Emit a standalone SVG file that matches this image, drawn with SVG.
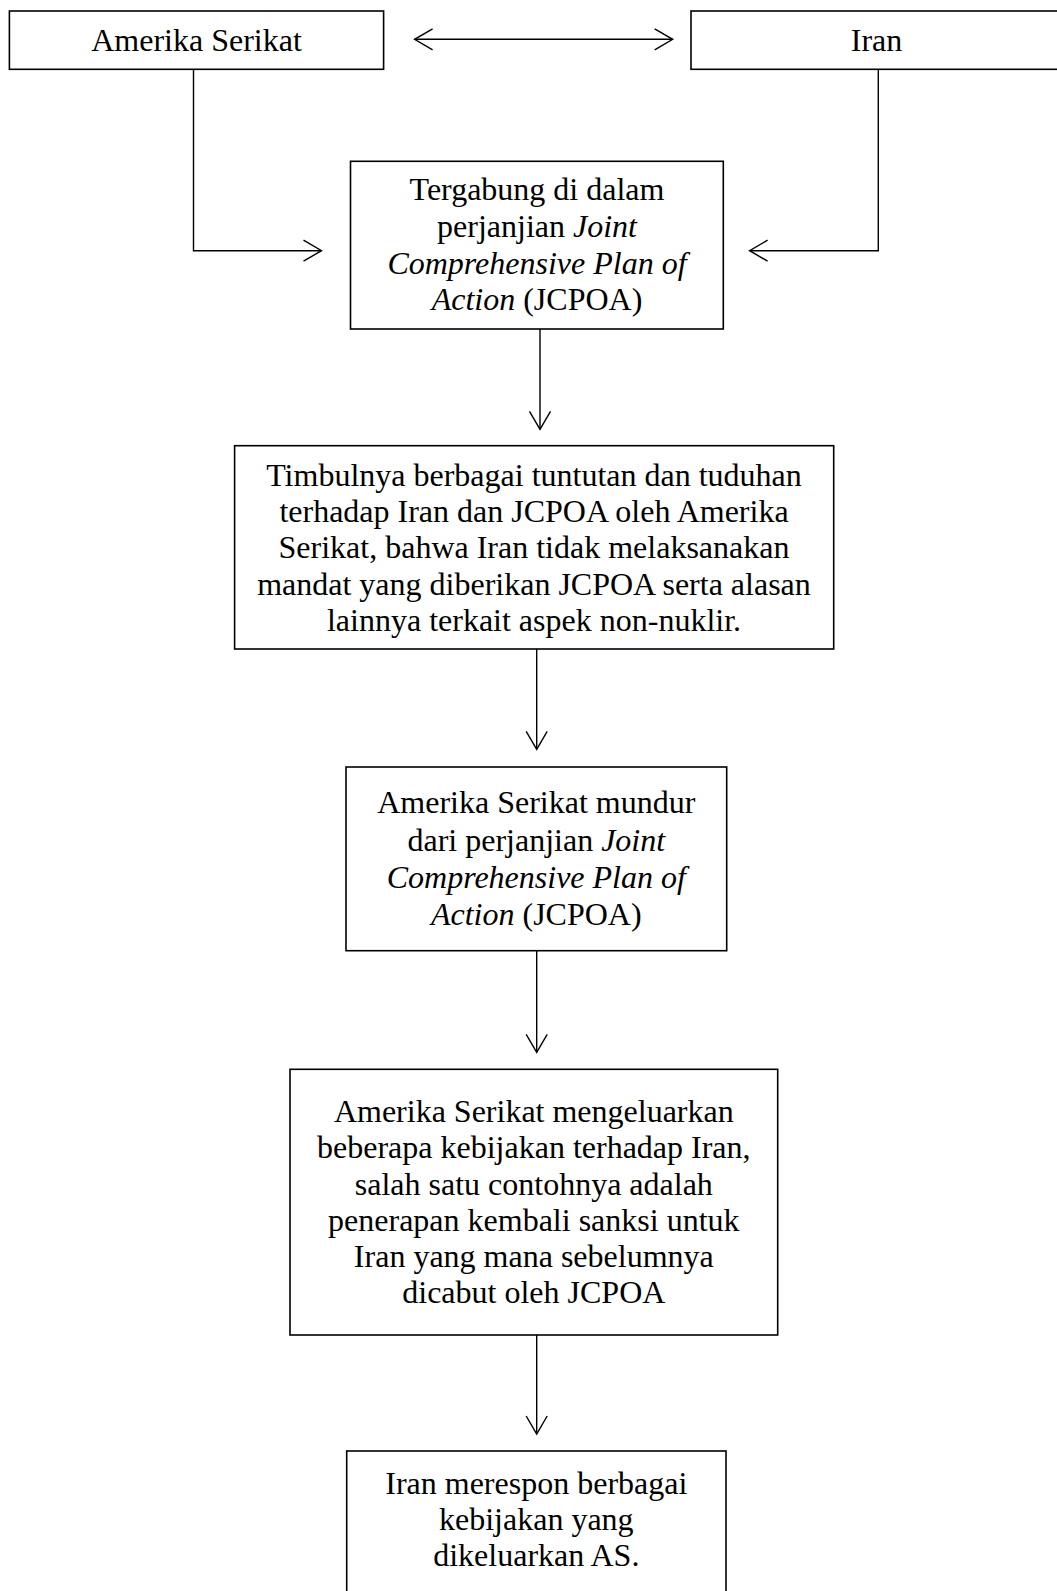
<svg xmlns="http://www.w3.org/2000/svg" width="1057" height="1591" viewBox="0 0 1057 1591">
<style>
.box{fill:#fff;stroke:#000;stroke-width:1.6}
.t{font-family:"Liberation Serif","Times New Roman",serif;font-size:32px;fill:#000;text-anchor:middle}
.i{font-style:italic}
.c{fill:none;stroke:#000;stroke-width:1.4}
</style>
<defs>
<marker id="ah" markerUnits="userSpaceOnUse" markerWidth="24" markerHeight="24" refX="0" refY="0" viewBox="-20 -12 22 24" orient="auto-start-reverse">
<path d="M-18,-10.5 L0,0 L-18,10.5" fill="none" stroke="#000" stroke-width="1.4"/>
</marker>
</defs>
<rect width="1057" height="1591" fill="#fff"/>
<g id="connectors">
<line class="c" x1="414.6" y1="39.3" x2="672.7" y2="39.3" marker-start="url(#ah)" marker-end="url(#ah)"/>
<polyline class="c" points="193.5,69 193.5,250.7 321.5,250.7" marker-end="url(#ah)"/>
<polyline class="c" points="878.3,69 878.3,250.7 749.6,250.7" marker-end="url(#ah)"/>
<line class="c" x1="540" y1="329" x2="540" y2="429.3" marker-end="url(#ah)"/>
<line class="c" x1="536.7" y1="649" x2="536.7" y2="749.3" marker-end="url(#ah)"/>
<line class="c" x1="536.7" y1="950.7" x2="536.7" y2="1052.3" marker-end="url(#ah)"/>
<line class="c" x1="536.7" y1="1335" x2="536.7" y2="1434" marker-end="url(#ah)"/>
</g>
<g id="node-as">
<rect class="box" x="9.4" y="11" width="374.2" height="58.3"/>
<text class="t" x="196.5" y="50.7">Amerika Serikat</text>
</g>
<g id="node-iran">
<rect class="box" x="691" y="11" width="371" height="58.3"/>
<text class="t" x="876.5" y="50.7">Iran</text>
</g>
<g id="node-jcpoa">
<rect class="box" x="350.5" y="161.3" width="372.8" height="167.7"/>
<text class="t" x="537" y="200">Tergabung di dalam</text>
<text class="t" x="537" y="237">perjanjian <tspan class="i">Joint</tspan></text>
<text class="t" x="537" y="274"><tspan class="i">Comprehensive Plan of</tspan></text>
<text class="t" x="537" y="310"><tspan class="i">Action</tspan> (JCPOA)</text>
</g>
<g id="node-tuntutan">
<rect class="box" x="234.6" y="445.7" width="599.1" height="203.3"/>
<text class="t" x="534" y="485.7">Timbulnya berbagai tuntutan dan tuduhan</text>
<text class="t" x="534" y="522">terhadap Iran dan JCPOA oleh Amerika</text>
<text class="t" x="534" y="558.3">Serikat, bahwa Iran tidak melaksanakan</text>
<text class="t" x="534" y="595">mandat yang diberikan JCPOA serta alasan</text>
<text class="t" x="534" y="631">lainnya terkait aspek non-nuklir.</text>
</g>
<g id="node-mundur">
<rect class="box" x="346" y="767" width="380.7" height="183.7"/>
<text class="t" x="536.3" y="813.3">Amerika Serikat mundur</text>
<text class="t" x="536.3" y="851">dari perjanjian <tspan class="i">Joint</tspan></text>
<text class="t" x="536.3" y="887.7"><tspan class="i">Comprehensive Plan of</tspan></text>
<text class="t" x="536.3" y="925"><tspan class="i">Action</tspan> (JCPOA)</text>
</g>
<g id="node-kebijakan">
<rect class="box" x="290" y="1069.3" width="487.7" height="265.7"/>
<text class="t" x="533.8" y="1122.3">Amerika Serikat mengeluarkan</text>
<text class="t" x="533.8" y="1158.3">beberapa kebijakan terhadap Iran,</text>
<text class="t" x="533.8" y="1195">salah satu contohnya adalah</text>
<text class="t" x="533.8" y="1230.7">penerapan kembali sanksi untuk</text>
<text class="t" x="533.8" y="1266.7">Iran yang mana sebelumnya</text>
<text class="t" x="533.8" y="1302.7">dicabut oleh JCPOA</text>
</g>
<g id="node-respon">
<rect class="box" x="346.7" y="1451" width="379.3" height="160"/>
<text class="t" x="536.3" y="1494.3">Iran merespon berbagai</text>
<text class="t" x="536.3" y="1530">kebijakan yang</text>
<text class="t" x="536.3" y="1565.7">dikeluarkan AS.</text>
</g>
</svg>
